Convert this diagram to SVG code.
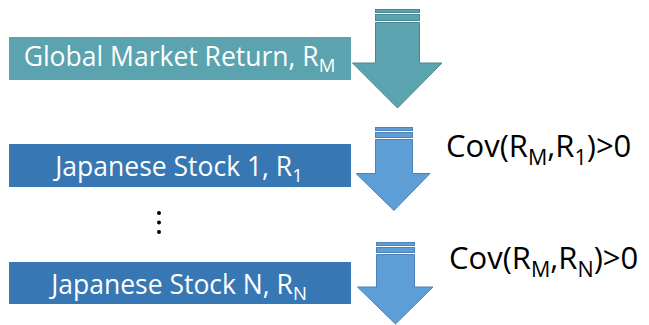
<svg xmlns="http://www.w3.org/2000/svg" width="649" height="325" viewBox="0 0 649 325">
<style>
.lbl{font-family:"Open Sans","Noto Sans",sans-serif;font-size:26.5px;fill:#ffffff;text-anchor:middle}
.cov{font-family:"Open Sans","Noto Sans",sans-serif;font-size:31px;fill:#000000}
.teal{fill:#5BA3AE}
.blue{fill:#3777B3}
.arT{fill:#5BA3AE;stroke:#4A8791;stroke-width:1}
.arB{fill:#5D9ED6;stroke:#4C82B5;stroke-width:1}
</style>
<rect width="649" height="325" fill="#ffffff"/>
<g id="node-market">
<rect class="teal" x="9" y="37" width="342" height="43"/>
<text class="lbl" x="179.5" y="65.5">Global Market Return, R<tspan font-size="18.5" dy="6">M</tspan></text>
</g>
<g id="node-stock1">
<rect class="blue" x="9" y="144" width="342" height="43"/>
<text class="lbl" x="179" y="176">Japanese Stock 1, R<tspan font-size="18.5" dy="6">1</tspan></text>
</g>
<g id="node-dots">
<circle cx="159" cy="213" r="2" fill="#000"/>
<circle cx="159" cy="222.5" r="2" fill="#000"/>
<circle cx="159" cy="232" r="2" fill="#000"/>
</g>
<g id="node-stockN">
<rect class="blue" x="9" y="262" width="342" height="42"/>
<text class="lbl" x="179" y="294">Japanese Stock N, R<tspan font-size="18.5" dy="6">N</tspan></text>
</g>
<g id="connectors">
<g id="arrow-1">
<rect class="arT" x="375.5" y="9.5" width="44" height="3"/>
<rect class="arT" x="375.5" y="14.5" width="44" height="6"/>
<polygon class="arT" points="375.5,22.5 419.5,22.5 419.5,63 442,63 397.5,108 352.5,63 375.5,63"/>
</g>
<g id="arrow-2">
<rect class="arB" x="375.5" y="127.5" width="37" height="3"/>
<rect class="arB" x="375.5" y="132.5" width="37" height="5"/>
<polygon class="arB" points="375.5,139.5 412.5,139.5 412.5,173.5 430,173.5 394,210.5 356,173.5 375.5,173.5"/>
</g>
<g id="arrow-3">
<rect class="arB" x="376.5" y="242.5" width="38" height="3"/>
<rect class="arB" x="376.5" y="247.5" width="38" height="5"/>
<polygon class="arB" points="376.5,254.5 414.5,254.5 414.5,287 433,287 395.5,324 357.5,287 376.5,287"/>
</g>
</g>
<g id="label-cov1">
<text class="cov" x="446" y="157">Cov(R<tspan font-size="21.5" dy="7.5">M</tspan><tspan dy="-7.5">,R</tspan><tspan font-size="21.5" dy="7.5">1</tspan><tspan dy="-7.5">)&gt;0</tspan></text>
</g>
<g id="label-covN">
<text class="cov" x="449" y="269">Cov(R<tspan font-size="21.5" dy="7.5">M</tspan><tspan dy="-7.5">,R</tspan><tspan font-size="21.5" dy="7.5">N</tspan><tspan dy="-7.5">)&gt;0</tspan></text>
</g>
</svg>
